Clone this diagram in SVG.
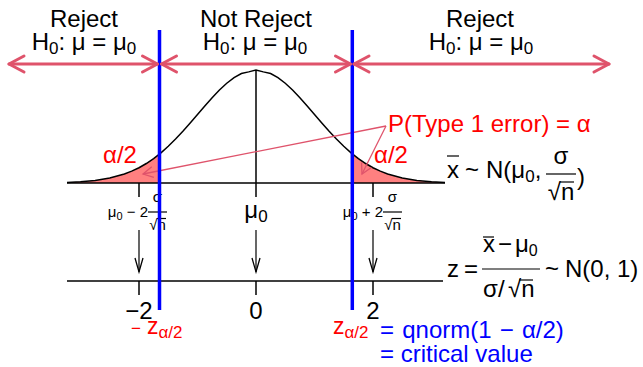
<svg xmlns="http://www.w3.org/2000/svg" width="643" height="367" viewBox="0 0 643 367">
<style>
text { font-family: "Liberation Sans", Arial, sans-serif; font-size: 24px; fill: #000; }
.red { fill: #FF0000; }
.blu { fill: #0000FF; }
.sm { font-size: 15px; }
.pk3 { stroke: #DF536B; stroke-width: 3; fill: none; stroke-linecap: round; }
.pk1 { stroke: #DF536B; stroke-width: 1.3; fill: none; }
.blk { stroke: #000; fill: none; stroke-width: 1.5; }
.thin { stroke: #000; fill: none; stroke-width: 1.2; }
.crit { stroke: #0000FF; stroke-width: 3.5; }
.tail { fill: #FF8080; stroke: none; }
</style>
<defs>
<marker id="hTop" markerUnits="userSpaceOnUse" orient="auto-start-reverse" overflow="visible" refX="0" refY="0" markerWidth="1" markerHeight="1">
<path d="M-15,-8 L0,0 L-15,8" fill="none" stroke="#DF536B" stroke-width="3" stroke-linecap="round" stroke-linejoin="round"/>
</marker>
<marker id="hPink" markerUnits="userSpaceOnUse" orient="auto" overflow="visible" refX="0" refY="0" markerWidth="1" markerHeight="1">
<path d="M-10,-5.5 L0,0 L-10,5.5" fill="none" stroke="#DF536B" stroke-width="1.3"/>
</marker>
<marker id="hDown" markerUnits="userSpaceOnUse" orient="auto" overflow="visible" refX="0" refY="0" markerWidth="1" markerHeight="1">
<path d="M-14,-4 L0,0 L-14,4" fill="none" stroke="#000" stroke-width="1.3"/>
</marker>
</defs>

<!-- density of x-bar -->
<g id="density">
<polygon class="tail" points="67,183 67,182.39 80.5,181.74 95.13,180.42 109.75,178.03 124.38,174.01 131.69,171.18 139,167.71 146.31,163.52 153.63,158.56 159.5,154.03 159.5,183"/>
<polygon class="tail" points="352,183 352,153.6 358.38,158.56 365.69,163.52 373,167.71 380.31,171.18 387.63,174.01 402.25,178.03 416.88,180.42 431.5,181.74 445,182.39 445,183"/>
<polyline class="blk" points="67,182.39 80.5,181.74 95.13,180.42 109.75,178.03 124.38,174.01 131.69,171.18 139,167.71 146.31,163.52 153.63,158.56 160.94,152.82 168.25,146.31 175.56,139.09 182.88,131.27 190.19,122.99 197.5,114.46 204.81,105.94 212.13,97.70 219.44,90.05 226.75,83.28 234.06,77.67 241.38,73.48 248.69,71.88 256,70 263.31,71.88 270.63,73.48 277.94,77.67 285.25,83.28 292.56,90.05 299.88,97.70 307.19,105.94 314.5,114.46 321.81,122.99 329.13,131.27 336.44,139.09 343.75,146.31 351.06,152.82 358.38,158.56 365.69,163.52 373,167.71 380.31,171.18 387.63,174.01 402.25,178.03 416.88,180.42 431.5,181.74 445,182.39"/>
<line class="blk" x1="67" y1="183" x2="445" y2="183" stroke-width="2"/>
<line class="blk" x1="256" y1="70" x2="256" y2="197"/>
<line class="blk" x1="139" y1="183" x2="139" y2="197"/>
<line class="blk" x1="373" y1="183" x2="373" y2="197"/>
</g>

<!-- x-bar axis labels -->
<g id="xbar-labels">
<text class="sm" x="148" y="217" text-anchor="end">μ<tspan dy="3" font-size="11">0</tspan><tspan dy="-3"> − 2</tspan></text>
<text class="sm" x="157.5" y="202" text-anchor="middle">σ</text>
<line class="thin" x1="148" y1="212" x2="167" y2="212" stroke-width="1"/>
<text class="sm" x="157.5" y="230" text-anchor="middle">√n</text>
<line class="thin" x1="157" y1="218.5" x2="166" y2="218.5" stroke-width="0.9"/>
<text class="sm" x="383" y="217" text-anchor="end">μ<tspan dy="3" font-size="11">0</tspan><tspan dy="-3"> + 2</tspan></text>
<text class="sm" x="392.5" y="202" text-anchor="middle">σ</text>
<line class="thin" x1="383" y1="212" x2="402" y2="212" stroke-width="1"/>
<text class="sm" x="392.5" y="230" text-anchor="middle">√n</text>
<line class="thin" x1="392" y1="218.5" x2="401" y2="218.5" stroke-width="0.9"/>
<text x="256" y="218" text-anchor="middle">μ<tspan dy="4" font-size="17">0</tspan></text>
</g>

<!-- x-bar distribution label -->
<g id="xbar-dist">
<text x="447" y="178">x</text>
<line class="thin" x1="447" y1="156" x2="459" y2="156"/>
<text x="465" y="178">~</text>
<text x="486" y="178">N(μ<tspan dy="4" font-size="17">0</tspan><tspan dy="-4">,</tspan></text>
<text x="561" y="164" text-anchor="middle">σ</text>
<line class="thin" x1="546" y1="174" x2="576" y2="174"/>
<text x="561" y="200" text-anchor="middle">√n</text>
<line class="thin" x1="560" y1="182" x2="574" y2="182"/>
<text x="577" y="185">)</text>
</g>

<!-- z axis -->
<g id="z-axis">
<line class="blk" x1="67" y1="281" x2="443" y2="281"/>
<line class="blk" x1="139" y1="281" x2="139" y2="295"/>
<line class="blk" x1="256" y1="281" x2="256" y2="295"/>
<line class="blk" x1="373" y1="281" x2="373" y2="295"/>
<text x="139" y="319" text-anchor="middle">−2</text>
<text x="256" y="319" text-anchor="middle">0</text>
<text x="373" y="319" text-anchor="middle">2</text>
</g>

<!-- z distribution label -->
<g id="z-dist">
<text x="447" y="277">z</text>
<text x="464" y="277">=</text>
<text font-size="22" x="483" y="252">x<tspan x="498">−</tspan><tspan x="515">μ</tspan><tspan dy="4" font-size="16">0</tspan></text>
<line class="thin" x1="483" y1="237" x2="494" y2="237"/>
<line class="thin" x1="482" y1="269" x2="540" y2="269"/>
<text font-size="22" x="483" y="297">σ<tspan x="498">/</tspan><tspan x="508">√n</tspan></text>
<line class="thin" x1="519" y1="280" x2="533" y2="280"/>
<text x="545" y="277">~</text>
<text x="565" y="277">N(0, 1)</text>
</g>

<!-- connectors -->
<g id="connectors">
<line class="thin" x1="139" y1="230" x2="139" y2="272" marker-end="url(#hDown)"/>
<line class="thin" x1="256" y1="230" x2="256" y2="272" marker-end="url(#hDown)"/>
<line class="thin" x1="373" y1="230" x2="373" y2="272" marker-end="url(#hDown)"/>
<line class="pk1" x1="386" y1="126" x2="143" y2="174" marker-end="url(#hPink)"/>
<line class="pk1" x1="386" y1="126" x2="362" y2="174" marker-end="url(#hPink)"/>
</g>

<!-- annotations -->
<g id="alpha-labels">
<text class="red" x="388" y="132">P(Type 1 error) = α</text>
<text class="red" x="103" y="163" font-size="20">α/2</text>
<text class="red" x="374" y="163" font-size="20">α/2</text>
</g>

<!-- critical value lines -->
<g id="critical-lines">
<line class="crit" x1="159.5" y1="30" x2="159.5" y2="310"/>
<line class="crit" x1="352.3" y1="30" x2="352.3" y2="310"/>
</g>

<g id="critical-labels">
<text class="red" x="131" y="334"><tspan font-size="17">−</tspan><tspan x="147" font-size="23">z</tspan><tspan dy="4" font-size="17">α/2</tspan></text>
<text class="red" x="333" y="334"><tspan font-size="23">z</tspan><tspan dy="4" font-size="17">α/2</tspan></text>
<text class="blu" x="380" y="338" word-spacing="1.5">= qnorm(1 − α/2)</text>
<text class="blu" x="380" y="362">= critical value</text>
</g>

<!-- regions -->
<g id="region-left">
<line class="pk3" x1="9" y1="64" x2="157.5" y2="64" marker-start="url(#hTop)" marker-end="url(#hTop)"/>
<text x="84" y="27" text-anchor="middle">Reject</text>
<text x="84" y="50" text-anchor="middle">H<tspan dy="4" font-size="17">0</tspan><tspan dy="-4">: μ = μ</tspan><tspan dy="4" font-size="17">0</tspan></text>
</g>
<g id="region-middle">
<line class="pk3" x1="161.5" y1="64" x2="350.5" y2="64" marker-start="url(#hTop)" marker-end="url(#hTop)"/>
<text x="256" y="27" text-anchor="middle">Not Reject</text>
<text x="255" y="50" text-anchor="middle">H<tspan dy="4" font-size="17">0</tspan><tspan dy="-4">: μ = μ</tspan><tspan dy="4" font-size="17">0</tspan></text>
</g>
<g id="region-right">
<line class="pk3" x1="354" y1="64" x2="609" y2="64" marker-start="url(#hTop)" marker-end="url(#hTop)"/>
<text x="480" y="27" text-anchor="middle">Reject</text>
<text x="481" y="50" text-anchor="middle">H<tspan dy="4" font-size="17">0</tspan><tspan dy="-4">: μ = μ</tspan><tspan dy="4" font-size="17">0</tspan></text>
</g>
</svg>
